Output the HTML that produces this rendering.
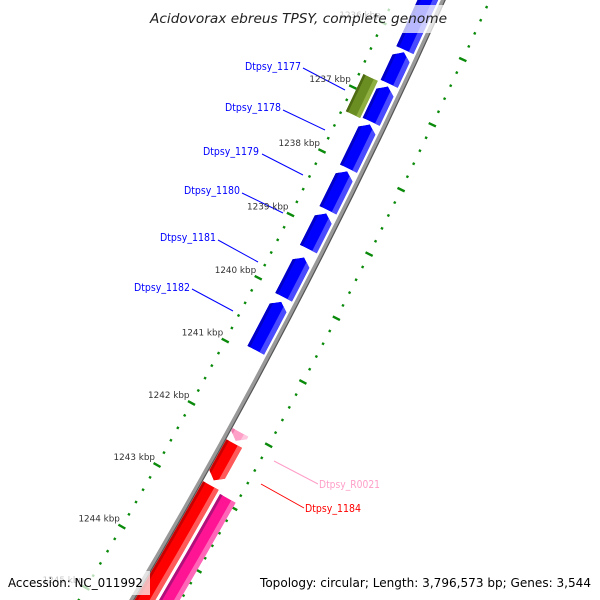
<!DOCTYPE html>
<html><head><meta charset="utf-8"><style>
html,body{margin:0;padding:0;background:#fff;width:600px;height:600px;overflow:hidden;}
svg{display:block;overflow:hidden;font-family:"DejaVu Sans","Liberation Sans",sans-serif;}
</style></head><body>
<svg id="map" width="600" height="600" viewBox="0 0 600 600" xmlns="http://www.w3.org/2000/svg">
<rect width="600" height="600" fill="#fff"/>
<g id="ticks"></g>
<g id="backbone"></g>
<g id="genes"></g>
<g id="labels"></g>
<g id="kbp"></g>
<rect x="146" y="5" width="304" height="28" fill="#fff" fill-opacity="0.72"/>
<text x="150" y="23" font-size="13" font-style="italic" fill="#222" textLength="297" lengthAdjust="spacingAndGlyphs">Acidovorax ebreus TPSY, complete genome</text>
<rect x="4" y="571" width="146" height="24" fill="#fff" fill-opacity="0.72"/>
<text x="8" y="587" font-size="12" fill="#000" textLength="135" lengthAdjust="spacingAndGlyphs">Accession: NC_011992</text>
<rect x="256" y="571" width="340" height="24" fill="#fff" fill-opacity="0.72"/>
<text x="260" y="587" font-size="12" fill="#000" textLength="331" lengthAdjust="spacingAndGlyphs">Topology: circular; Length: 3,796,573 bp; Genes: 3,544</text>
</svg>
<script>
// ---- data ----
var geneNames  = ["Dtpsy_1176","Dtpsy_1177b","Dtpsy_1177","Dtpsy_1178","Dtpsy_1179","Dtpsy_1180","Dtpsy_1181","Dtpsy_1182","misc_1177","Dtpsy_R0021","Dtpsy_1184","Dtpsy_1183","Dtpsy_1185"];
var geneStart  = [1235.2, 1236.25, 1236.78, 1237.37, 1238.10, 1238.76, 1239.45, 1240.15, 1236.77, 1242.03, 1242.21, 1242.88, 1242.92];
var geneEnd    = [1236.22,1236.74, 1237.33, 1238.06, 1238.71, 1239.32, 1240.08, 1240.92, 1237.35, 1242.17, 1242.80, 1246.50, 1246.50];
var geneStrand = [-1,-1,-1,-1,-1,-1,-1,-1,0,1,1,1,1];
var geneTrack  = ["in","in","in","in","in","in","in","in","in2","out","out","out","out2"];
var geneColor  = ["blue","blue","blue","blue","blue","blue","blue","blue","olive","pink","red","red","magenta"];
var tickStartKbp = 1235, tickEndKbp = 1246;
var kbpLabels = [1236,1237,1238,1239,1240,1241,1242,1243,1244,1245];

// ---- geometry ----
var CX=-5138, CY=-2517, R=6122;
var REF_KBP=1240, REF_DEG=27.38, DEG_PER_KBP=0.669;
function ang(kbp){return (REF_DEG+(kbp-REF_KBP)*DEG_PER_KBP)*Math.PI/180;}
function pt(r,a){return [CX+r*Math.cos(a), CY+r*Math.sin(a)];}
function f(p){return p[0].toFixed(2)+","+p[1].toFixed(2);}
var NS="http://www.w3.org/2000/svg";
function mk(tag,attrs,parent){var e=document.createElementNS(NS,tag);for(var k in attrs)e.setAttribute(k,attrs[k]);parent.appendChild(e);return e;}
var trackR={in:[R-23,R-4],in2:[R-41,R-25],out:[R+3,R+21],out2:[R+24,R+42]};
var palette={
 blue:{main:"#0000ff",light:"#4a4aff",dark:"#0000c8"},
 olive:{main:"#6b8e23",light:"#8fb040",dark:"#4e6a12"},
 pink:{main:"#ffa0c8",light:"#ffc8de",dark:"#f080b0"},
 red:{main:"#ff0000",light:"#ff5a5a",dark:"#c80000"},
 magenta:{main:"#ff1493",light:"#ff66b8",dark:"#b0107a"}};

// ticks (minor every 0.2 kbp)
var tg=document.getElementById('ticks');
[R-45,R+43].forEach(function(rc){
  for(var i=tickStartKbp*5;i<=tickEndKbp*5;i++){
    var kb=i/5, a=ang(kb), major=(i%5===0);
    var h=major?4:1.2;
    var p1=pt(rc-h,a), p2=pt(rc+h,a);
    var l=mk('line',{x1:p1[0],y1:p1[1],x2:p2[0],y2:p2[1],stroke:"#0a8a0a","stroke-width":major?2.4:2.4},tg);
    
    
  }
});
// kbp labels
var kg=document.getElementById('kbp');
kbpLabels.forEach(function(kb){
  var p=pt(R-45,ang(kb));
  var t=mk('text',{x:(p[0]-2).toFixed(1),y:(p[1]-5).toFixed(1),"text-anchor":"end","font-size":"8.8",fill:"#333"},kg);
  t.textContent=kb+" kbp";
  
  
});
// backbone
var bg=document.getElementById('backbone');
var c1=mk('circle',{cx:CX,cy:CY,r:R+2,fill:"none",stroke:"#555","stroke-width":1.8},bg);


var c2=mk('circle',{cx:CX,cy:CY,r:R,fill:"none",stroke:"#999","stroke-width":3.4},bg);



// genes
var gg=document.getElementById('genes');
var defs=mk('defs',{},gg);
var HEAD=7/R;
for(var i=0;i<geneStart.length;i++){
  var r1=trackR[geneTrack[i]][0], r2=trackR[geneTrack[i]][1], rm=(r1+r2)/2;
  var a1=ang(geneStart[i]), a2=ang(geneEnd[i]), s=geneStrand[i];
  var d;
  if(s===0){
    d="M"+f(pt(r1,a1))+" A"+r1+" "+r1+" 0 0 1 "+f(pt(r1,a2))+" L"+f(pt(r2,a2))+" A"+r2+" "+r2+" 0 0 0 "+f(pt(r2,a1))+" Z";
  } else if(s>0){
    var h=Math.max(a1,a2-HEAD);
    d="M"+f(pt(r1,a1))+" A"+r1+" "+r1+" 0 0 1 "+f(pt(r1,h))+" L"+f(pt(rm,a2))+" L"+f(pt(r2,h))+" A"+r2+" "+r2+" 0 0 0 "+f(pt(r2,a1))+" Z";
  } else {
    var h2=Math.min(a2,a1+HEAD);
    d="M"+f(pt(rm,a1))+" L"+f(pt(r1,h2))+" A"+r1+" "+r1+" 0 0 1 "+f(pt(r1,a2))+" L"+f(pt(r2,a2))+" A"+r2+" "+r2+" 0 0 0 "+f(pt(r2,h2))+" Z";
  }
  var cp=mk('clipPath',{id:"gc"+i},defs);
  mk('path',{d:d},cp);
  var g=mk('g',{"clip-path":"url(#gc"+i+")"},gg);
  
  
  var col=palette[geneColor[i]];
  mk('path',{d:d,fill:col.main},g);
  var w=r2-r1;
  mk('circle',{cx:CX,cy:CY,r:r1+w*0.08,fill:"none",stroke:col.dark,"stroke-width":w*0.16},g);
  mk('circle',{cx:CX,cy:CY,r:r2-w*0.14,fill:"none",stroke:col.light,"stroke-width":w*0.28},g);
}

// gene labels (annotation positions)
var labelText = ["Dtpsy_1177","Dtpsy_1178","Dtpsy_1179","Dtpsy_1180","Dtpsy_1181","Dtpsy_1182","Dtpsy_R0021","Dtpsy_1184"];
var labelColor= ["#0000ff","#0000ff","#0000ff","#0000ff","#0000ff","#0000ff","#ff9ec8","#ff0000"];
var labelX = [245,225,203,184,160,134,319,305];
var labelY = [70,111,155,194,241,291,488,512];
var lineX1 = [303,283,262,242,218,192,318,304];
var lineY1 = [68,110,154,193,240,289,484,508];
var lineX2 = [345,325,303,283,258,233,274,261];
var lineY2 = [90,130,175,213,262,311,461,484];
var lg=document.getElementById('labels');
for(var j=0;j<labelText.length;j++){
  var ln=mk('line',{x1:lineX1[j],y1:lineY1[j],x2:lineX2[j],y2:lineY2[j],stroke:labelColor[j],"stroke-width":1},lg);
  
  
  var t=mk('text',{x:labelX[j],y:labelY[j],"font-size":"10.5",fill:labelColor[j],textLength:labelText[j].length>10?61:56,lengthAdjust:"spacingAndGlyphs"},lg);
  t.textContent=labelText[j];
  
  
}
</script>
</body></html>
